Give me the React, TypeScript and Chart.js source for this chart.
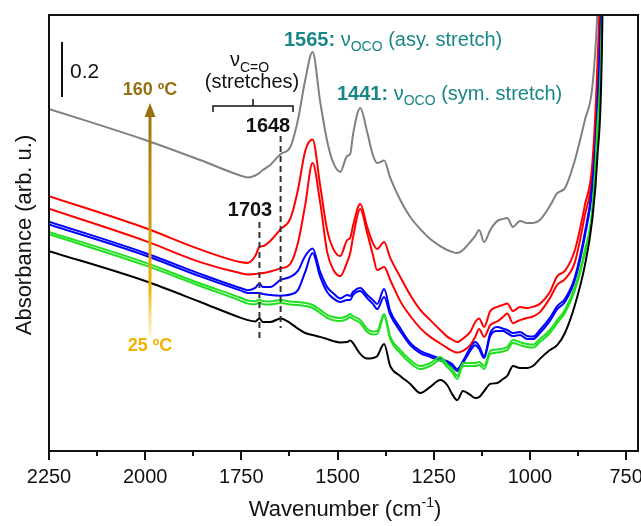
import React, { useEffect, useRef } from "react";
import { Chart, registerables } from "chart.js";

Chart.register(...registerables);

const FONT = "'Liberation Sans', Arial, Helvetica, sans-serif";

// Wavenumber grid (cm-1)
const wavenumber = [2250, 2000, 1857, 1753, 1733, 1714, 1703, 1694, 1675, 1648, 1623, 1603, 1584, 1565, 1545, 1527, 1512, 1493, 1475, 1467, 1460, 1441, 1423, 1408, 1397, 1379, 1363, 1337, 1311, 1285, 1259, 1233, 1215, 1202, 1189, 1174, 1155, 1142, 1132, 1119, 1103, 1085, 1070, 1059, 1044, 1026, 1007, 992, 974, 948, 929, 909, 883, 857, 838, 825, 812, 802];

// Absorbance (arb. u.), offset spectra
const gray160 = [1.244, 1.131, 1.058, 1.002, 0.995, 1.002, 1.011, 1.022, 1.040, 1.080, 1.105, 1.204, 1.349, 1.451, 1.269, 1.127, 1.051, 1.015, 1.073, 1.080, 1.149, 1.247, 1.160, 1.076, 1.047, 1.056, 0.993, 0.913, 0.851, 0.807, 0.771, 0.745, 0.731, 0.724, 0.720, 0.731, 0.760, 0.782, 0.804, 0.760, 0.804, 0.836, 0.844, 0.847, 0.815, 0.836, 0.829, 0.829, 0.840, 0.891, 0.938, 0.956, 1.058, 1.204, 1.320, 1.585, 2.185, 3.095];
const redA = [0.927, 0.811, 0.733, 0.687, 0.684, 0.709, 0.742, 0.745, 0.764, 0.807, 0.844, 0.949, 1.091, 1.133, 0.964, 0.804, 0.738, 0.709, 0.767, 0.775, 0.818, 0.898, 0.815, 0.756, 0.735, 0.760, 0.702, 0.633, 0.567, 0.513, 0.476, 0.440, 0.416, 0.405, 0.396, 0.409, 0.433, 0.469, 0.482, 0.451, 0.509, 0.524, 0.531, 0.536, 0.509, 0.524, 0.520, 0.524, 0.535, 0.578, 0.636, 0.655, 0.731, 0.895, 1.040, 1.385, 2.004, 3.095];
const redB = [0.881, 0.764, 0.687, 0.647, 0.642, 0.644, 0.645, 0.647, 0.653, 0.664, 0.680, 0.756, 0.895, 1.047, 0.902, 0.724, 0.662, 0.636, 0.687, 0.720, 0.775, 0.880, 0.793, 0.713, 0.658, 0.669, 0.622, 0.545, 0.491, 0.447, 0.415, 0.391, 0.375, 0.364, 0.358, 0.364, 0.385, 0.415, 0.444, 0.415, 0.458, 0.471, 0.487, 0.500, 0.465, 0.476, 0.484, 0.489, 0.505, 0.556, 0.604, 0.625, 0.687, 0.858, 1.004, 1.331, 1.931, 3.095];
const blueA = [0.834, 0.720, 0.644, 0.593, 0.585, 0.593, 0.609, 0.596, 0.596, 0.622, 0.633, 0.655, 0.709, 0.736, 0.651, 0.596, 0.575, 0.555, 0.567, 0.564, 0.578, 0.593, 0.567, 0.549, 0.535, 0.589, 0.509, 0.447, 0.393, 0.364, 0.349, 0.336, 0.327, 0.316, 0.298, 0.327, 0.375, 0.396, 0.382, 0.345, 0.429, 0.451, 0.445, 0.440, 0.429, 0.433, 0.418, 0.416, 0.440, 0.484, 0.527, 0.553, 0.633, 0.796, 0.967, 1.240, 1.822, 3.095];
const blueB = [0.824, 0.711, 0.635, 0.584, 0.575, 0.575, 0.575, 0.571, 0.567, 0.565, 0.569, 0.585, 0.651, 0.720, 0.633, 0.578, 0.556, 0.542, 0.549, 0.549, 0.567, 0.582, 0.556, 0.535, 0.516, 0.560, 0.495, 0.436, 0.385, 0.356, 0.342, 0.329, 0.320, 0.309, 0.291, 0.320, 0.364, 0.385, 0.371, 0.338, 0.418, 0.436, 0.436, 0.429, 0.418, 0.422, 0.407, 0.407, 0.429, 0.473, 0.516, 0.542, 0.622, 0.782, 0.949, 1.204, 1.785, 3.095];
const greenA = [0.797, 0.685, 0.609, 0.558, 0.547, 0.545, 0.551, 0.545, 0.544, 0.549, 0.544, 0.542, 0.538, 0.531, 0.513, 0.495, 0.487, 0.484, 0.491, 0.498, 0.491, 0.476, 0.444, 0.435, 0.436, 0.498, 0.415, 0.367, 0.331, 0.309, 0.320, 0.342, 0.316, 0.298, 0.273, 0.320, 0.320, 0.320, 0.324, 0.309, 0.364, 0.369, 0.373, 0.378, 0.404, 0.396, 0.389, 0.387, 0.407, 0.440, 0.476, 0.513, 0.596, 0.731, 0.876, 1.167, 1.640, 3.095];
const greenB = [0.788, 0.675, 0.600, 0.547, 0.536, 0.534, 0.540, 0.534, 0.533, 0.538, 0.533, 0.531, 0.527, 0.520, 0.502, 0.484, 0.476, 0.473, 0.480, 0.487, 0.480, 0.465, 0.433, 0.424, 0.425, 0.491, 0.407, 0.356, 0.320, 0.298, 0.309, 0.331, 0.305, 0.287, 0.262, 0.309, 0.309, 0.309, 0.313, 0.298, 0.353, 0.358, 0.362, 0.367, 0.393, 0.385, 0.378, 0.376, 0.396, 0.429, 0.465, 0.502, 0.585, 0.720, 0.865, 1.149, 1.604, 3.095];
const black25 = [0.727, 0.618, 0.542, 0.485, 0.476, 0.471, 0.482, 0.469, 0.469, 0.482, 0.465, 0.445, 0.429, 0.422, 0.415, 0.407, 0.400, 0.395, 0.396, 0.402, 0.393, 0.353, 0.336, 0.338, 0.345, 0.389, 0.309, 0.273, 0.244, 0.211, 0.233, 0.258, 0.240, 0.207, 0.185, 0.218, 0.204, 0.193, 0.196, 0.218, 0.244, 0.247, 0.262, 0.273, 0.309, 0.302, 0.302, 0.309, 0.335, 0.367, 0.385, 0.429, 0.531, 0.676, 0.840, 1.058, 1.531, 3.095];

const xTickValues = [2250, 2000, 1750, 1500, 1250, 1000, 750];
const xMinorTicks = [2125, 1875, 1625, 1375, 1125, 875];
const peakMarkers = [1703, 1648];
const scaleBarValue = 0.2;

const seriesList = [
  { label: "25 ºC", data: black25, color: "#000000" },
  { label: "green B", data: greenB, color: "#1EE01E" },
  { label: "green A", data: greenA, color: "#1EE01E" },
  { label: "blue B", data: blueB, color: "#0000FF" },
  { label: "blue A", data: blueA, color: "#0000FF" },
  { label: "red B", data: redB, color: "#FF0000" },
  { label: "red A", data: redA, color: "#FF0000" },
  { label: "160 ºC", data: gray160, color: "#808080" },
];

const TEAL = "#178787";

type Run = { text: string; size: number; bold?: boolean; dy?: number; color: string };

function drawRuns(ctx: CanvasRenderingContext2D, x: number, y: number, runs: Run[]) {
  let cx = x;
  ctx.textAlign = "left";
  ctx.textBaseline = "alphabetic";
  for (const r of runs) {
    ctx.font = `${r.bold ? "bold " : ""}${r.size}px ${FONT}`;
    ctx.fillStyle = r.color;
    ctx.fillText(r.text, cx, y + (r.dy || 0));
    cx += ctx.measureText(r.text).width;
  }
  return cx;
}

function runsWidth(ctx: CanvasRenderingContext2D, runs: Run[]) {
  let w = 0;
  for (const r of runs) {
    ctx.font = `${r.bold ? "bold " : ""}${r.size}px ${FONT}`;
    w += ctx.measureText(r.text).width;
  }
  return w;
}

const overlay = {
  id: "overlay",
  afterDraw(chart: any) {
    const { ctx, chartArea: a, scales } = chart;
    const x = scales.x;
    const y = scales.y;
    ctx.save();

    // frame
    ctx.strokeStyle = "#111111";
    ctx.lineWidth = 2;
    ctx.strokeRect(a.left, a.top, a.right - a.left, a.bottom - a.top);

    // x ticks
    ctx.beginPath();
    for (const v of xTickValues) {
      const p = Math.round(x.getPixelForValue(v));
      ctx.moveTo(p, a.bottom);
      ctx.lineTo(p, a.bottom + 9);
    }
    for (const v of xMinorTicks) {
      const p = Math.round(x.getPixelForValue(v));
      ctx.moveTo(p, a.bottom);
      ctx.lineTo(p, a.bottom + 5);
    }
    ctx.stroke();

    // x title
    const xt: Run[] = [
      { text: "Wavenumber (cm", size: 22, color: "#111" },
      { text: "-1", size: 14, dy: -9, color: "#111" },
      { text: ")", size: 22, color: "#111" },
    ];
    drawRuns(ctx, 345 - runsWidth(ctx, xt) / 2, 516, xt);

    // y title
    ctx.save();
    ctx.translate(31, 235);
    ctx.rotate(-Math.PI / 2);
    ctx.font = `22px ${FONT}`;
    ctx.fillStyle = "#111";
    ctx.textAlign = "center";
    ctx.textBaseline = "alphabetic";
    ctx.fillText("Absorbance (arb. u.)", 0, 0);
    ctx.restore();

    // scale bar
    const barLen = y.getPixelForValue(0) - y.getPixelForValue(scaleBarValue);
    ctx.strokeStyle = "#111";
    ctx.lineWidth = 2;
    ctx.beginPath();
    ctx.moveTo(62, 42);
    ctx.lineTo(62, 42 + barLen);
    ctx.stroke();
    drawRuns(ctx, 70, 78, [{ text: String(scaleBarValue), size: 21, color: "#111" }]);

    // temperature arrow
    const grad = ctx.createLinearGradient(0, 103, 0, 336);
    grad.addColorStop(0, "#967010");
    grad.addColorStop(0.45, "#C8940E");
    grad.addColorStop(0.8, "#F2B200");
    grad.addColorStop(1, "rgba(248,205,90,0.25)");
    ctx.strokeStyle = grad;
    ctx.lineWidth = 3;
    ctx.beginPath();
    ctx.moveTo(150, 114);
    ctx.lineTo(150, 336);
    ctx.stroke();
    ctx.fillStyle = "#967010";
    ctx.beginPath();
    ctx.moveTo(150, 103);
    ctx.lineTo(144.5, 117);
    ctx.lineTo(155.5, 117);
    ctx.closePath();
    ctx.fill();

    ctx.textAlign = "center";
    ctx.font = `bold 18px ${FONT}`;
    ctx.fillStyle = "#967010";
    ctx.fillText("160 ºC", 150, 95);
    ctx.fillStyle = "#F2B200";
    ctx.fillText("25 ºC", 150, 351);

    // nu C=O bracket
    drawRuns(ctx, 230, 66, [
      { text: "ν", size: 20, color: "#111" },
      { text: "C=O", size: 14, dy: 6, color: "#111" },
    ]);
    ctx.textAlign = "center";
    ctx.font = `20px ${FONT}`;
    ctx.fillStyle = "#111";
    ctx.fillText("(stretches)", 252, 88);
    ctx.strokeStyle = "#111";
    ctx.lineWidth = 1.5;
    ctx.beginPath();
    ctx.moveTo(213, 112);
    ctx.lineTo(213, 106);
    ctx.lineTo(293, 106);
    ctx.lineTo(293, 112);
    ctx.moveTo(253, 106);
    ctx.lineTo(253, 99);
    ctx.stroke();

    // peak markers
    ctx.font = `bold 20px ${FONT}`;
    ctx.fillStyle = "#111";
    ctx.fillText(String(peakMarkers[1]), 268, 132);
    ctx.fillText(String(peakMarkers[0]), 250, 216);
    ctx.strokeStyle = "#333";
    ctx.lineWidth = 2;
    ctx.setLineDash([6, 4]);
    const p1703 = x.getPixelForValue(peakMarkers[0]);
    const p1648 = x.getPixelForValue(peakMarkers[1]);
    ctx.beginPath();
    ctx.moveTo(p1703, 222);
    ctx.lineTo(p1703, 338);
    ctx.moveTo(p1648, 136);
    ctx.lineTo(p1648, 328);
    ctx.stroke();
    ctx.setLineDash([]);

    // OCO labels
    drawRuns(ctx, 284, 46, [
      { text: "1565:", size: 20, bold: true, color: TEAL },
      { text: " ν", size: 20, color: TEAL },
      { text: "OCO", size: 14, dy: 5, color: TEAL },
      { text: " (asy. stretch)", size: 20, color: TEAL },
    ]);
    drawRuns(ctx, 337, 100, [
      { text: "1441:", size: 20, bold: true, color: TEAL },
      { text: " ν", size: 20, color: TEAL },
      { text: "OCO", size: 14, dy: 5, color: TEAL },
      { text: " (sym. stretch)", size: 20, color: TEAL },
    ]);

    ctx.restore();
  },
};

export default function App() {
  const ref = useRef<HTMLCanvasElement>(null);

  useEffect(() => {
    const canvas = ref.current;
    if (!canvas) return;
    const chart = new Chart(canvas, {
      type: "line",
      data: {
        datasets: seriesList.map((s) => ({
          label: s.label,
          data: wavenumber.map((w, i) => ({ x: w, y: s.data[i] })),
          borderColor: s.color,
          backgroundColor: s.color,
          borderWidth: 2,
          pointRadius: 0,
          fill: false,
          cubicInterpolationMode: "monotone" as const,
        })),
      },
      options: {
        responsive: false,
        animation: false,
        devicePixelRatio: 1,
        events: [],
        layout: { padding: { left: 49, right: 3, top: 15, bottom: 23 } },
        plugins: { legend: { display: false }, tooltip: { enabled: false } },
        scales: {
          x: {
            type: "linear",
            reverse: true,
            min: 719,
            max: 2250,
            afterBuildTicks: (s: any) => {
              s.ticks = xTickValues.map((v) => ({ value: v }));
            },
            afterFit: (s: any) => {
              s.paddingLeft = 0;
              s.paddingRight = 0;
            },
            grid: { display: false, drawTicks: false },
            border: { display: false },
            ticks: {
              color: "#111",
              font: { size: 20, family: FONT },
              padding: 14,
              maxRotation: 0,
              autoSkip: false,
              callback: (v: any) => String(v),
            },
          },
          y: {
            type: "linear",
            display: false,
            min: 0,
            max: 1.5855,
          },
        },
      },
      plugins: [overlay],
    });
    return () => chart.destroy();
  }, []);

  return (
    <div style={{ position: "fixed", left: 0, top: 0, width: 641, height: 526, background: "#fff" }}>
      <canvas ref={ref} width={641} height={526} style={{ width: 641, height: 526, display: "block" }} />
    </div>
  );
}
